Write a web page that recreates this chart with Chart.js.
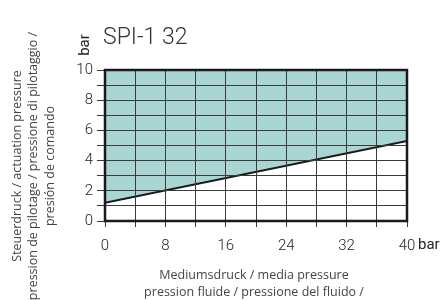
<!DOCTYPE html>
<html>
<head>
<meta charset="utf-8">
<script src="https://cdn.jsdelivr.net/npm/chart.js@4"></script>
<style>
  html, body { margin: 0; padding: 0; background: #fff; }
  #wrap { width: 447px; height: 300px; }
</style>
</head>
<body>
<div id="wrap"><canvas id="chart" width="447" height="300"></canvas></div>
<script>
const chartTitle = 'SPI-1 32';
const mediaPressure = [0, 40];          // bar
const actuationPressure = [1.2, 5.3];   // bar, minimum needed
const xTicks = [0, 8, 16, 24, 32, 40];
const yTicks = [0, 2, 4, 6, 8, 10];
const yTitle = ['Steuerdruck / actuation pressure', 'pression de pilotage / pressione di pilotaggio /', 'presión de comando'];
const xTitle = ['Mediumsdruck / media pressure', 'pression fluide / pressione del fluido /'];
const unit = 'bar';

const labelFont = 'Roboto, "Liberation Sans", sans-serif';

// titles, unit labels and the heavy frame
const extras = {
  id: 'extras',
  afterDraw(chart) {
    const { ctx, chartArea: a } = chart;
    ctx.save();
    ctx.strokeStyle = '#1a1a1a';
    ctx.lineWidth = 2.5;
    ctx.strokeRect(a.left, a.top, a.right - a.left, a.bottom - a.top);

    ctx.fillStyle = '#333';
    ctx.font = '300 23px ' + labelFont;
    ctx.textAlign = 'left';
    ctx.textBaseline = 'middle';
    ctx.fillText(chartTitle, a.left - 2, 38);

    ctx.fillStyle = '#222';
    ctx.font = '15px ' + labelFont;
    ctx.fillText(unit, a.right + 11, a.bottom + 24);

    ctx.save();
    ctx.translate(a.left - 20, 45);
    ctx.rotate(-Math.PI / 2);
    ctx.textAlign = 'center';
    ctx.fillText(unit, 0, 0);
    ctx.restore();

    ctx.fillStyle = '#444';
    ctx.font = '12.5px "Open Sans", sans-serif';
    ctx.textAlign = 'center';
    xTitle.forEach((t, i) => ctx.fillText(t, 254, 275 + i * 17));

    ctx.save();
    ctx.translate(17, 166);
    ctx.rotate(-Math.PI / 2);
    yTitle.forEach((t, i) => ctx.fillText(t, 0, i * 16.5));
    ctx.restore();
    ctx.restore();
  }
};

new Chart(document.getElementById('chart'), {
  type: 'line',
  data: {
    datasets: [{
      data: mediaPressure.map((x, i) => ({ x, y: actuationPressure[i] })),
      borderColor: '#1a1a1a',
      borderWidth: 2,
      pointRadius: 0,
      fill: 'end',
      backgroundColor: '#a9d5d3',
      tension: 0
    }]
  },
  options: {
    responsive: false,
    animation: false,
    events: [],
    layout: { padding: { left: 0, top: 70, right: 40, bottom: 0 } },
    plugins: { legend: { display: false }, tooltip: { enabled: false } },
    scales: {
      x: {
        type: 'linear',
        min: 0, max: 40,
        afterFit(s) { s.height = 79; },
        afterBuildTicks(s) { s.ticks = Array.from({ length: 11 }, (_, i) => ({ value: i * 4 })); },
        grid: { color: '#3a3a3a', lineWidth: 1, tickLength: 6, z: 1 },
        border: { display: false },
        ticks: {
          padding: 10,
          color: '#222',
          font: { family: labelFont, size: 15, weight: '300' },
          maxRotation: 0,
          autoSkip: false,
          callback: v => xTicks.includes(v) ? String(v) : ''
        }
      },
      y: {
        min: 0, max: 10,
        afterFit(s) { s.width = 105; },
        afterBuildTicks(s) { s.ticks = Array.from({ length: 11 }, (_, i) => ({ value: i })); },
        grid: { color: '#3a3a3a', lineWidth: 1, tickLength: 8, z: 1 },
        border: { display: false },
        ticks: {
          padding: 4,
          color: '#222',
          font: { family: labelFont, size: 15, weight: '300' },
          autoSkip: false,
          callback: v => yTicks.includes(v) ? String(v) : ''
        }
      }
    }
  },
  plugins: [extras]
});
</script>
</body>
</html>
